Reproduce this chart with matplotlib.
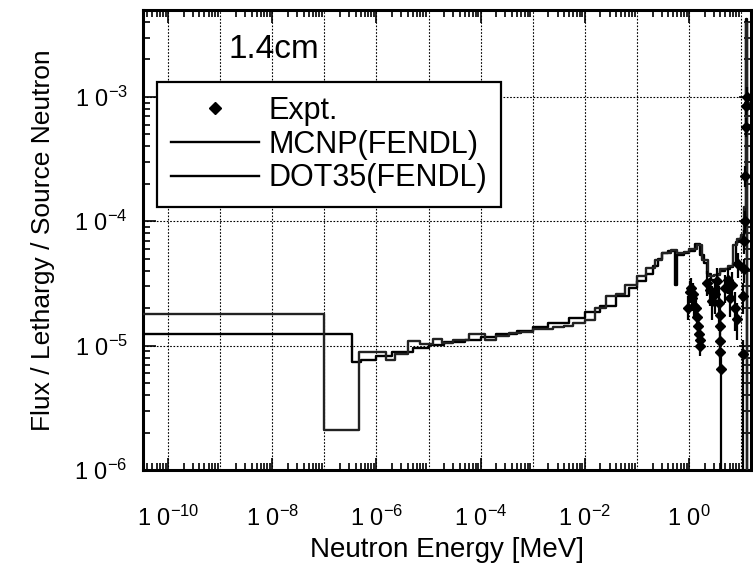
import numpy as np
import matplotlib
matplotlib.use("Agg")
import matplotlib.pyplot as plt
from matplotlib.lines import Line2D
from matplotlib.ticker import LogLocator, NullFormatter

plt.rcParams['font.family'] = ['Liberation Sans', 'DejaVu Sans']
plt.rcParams['mathtext.fontset'] = 'custom'
plt.rcParams['mathtext.rm'] = 'Liberation Sans'
plt.rcParams['mathtext.it'] = 'Liberation Sans:italic'

# MCNP(FENDL) group edges [MeV] and flux per lethargy (one value per group)
mcnp_edges = [3.3e-11, 3.4e-7, 5e-7, 1e-6, 2e-6, 5e-6, 1e-5, 2e-5, 5e-5, 1e-4,
              2e-4, 5e-4, 1e-3, 2e-3, 5e-3, 1e-2, 2e-2, 4e-2, 7e-2, 0.1,
              0.15, 0.2, 0.25, 0.3, 0.4, 0.5, 0.55, 0.6, 0.8, 1.0,
              1.3, 1.6, 1.9, 2.2, 2.6, 3.0, 3.5, 4.0, 5.0, 6.0,
              7.0, 8.0, 9.0, 10.0, 11.0, 11.6, 12.0, 12.4, 13.0, 15.0]
mcnp_flux = [1.23e-5, 7.4e-6, 7.6e-6, 8.2e-6, 8.9e-6, 9.6e-6, 1.02e-5, 1.07e-5, 1.12e-5,
             1.17e-5, 1.24e-5, 1.32e-5, 1.40e-5, 1.52e-5, 1.68e-5, 1.85e-5, 2.1e-5, 2.5e-5, 2.9e-5,
             3.3e-5, 3.8e-5, 4.4e-5, 5.0e-5, 5.6e-5, 5.8e-5, 5.8e-5, 3.1e-5, 5.4e-5, 5.6e-5,
             5.8e-5, 6.6e-5, 5.4e-5, 4.6e-5, 3.8e-5, 3.4e-5, 3.3e-5, 3.8e-5, 4.0e-5, 4.1e-5,
             4.3e-5, 4.6e-5, 6.8e-5, 7.2e-5, 7.5e-5, 7.8e-5, 8.5e-5, 1.2e-4, 4.2e-3, 5e-7]

# DOT3.5(FENDL) coarse group structure
dot_edges = [3.3e-11, 1e-7, 4.6e-7, 1.5e-6, 2.3e-6, 4e-6, 7e-6, 1.2e-5, 1.8e-5, 3e-5,
             6e-5, 1.2e-4, 2e-4, 3.5e-4, 6e-4, 1e-3, 1.6e-3, 2.5e-3, 4e-3, 6e-3,
             1e-2, 1.6e-2, 2.6e-2, 4e-2, 6e-2, 0.1, 0.15, 0.22, 0.3, 0.45,
             0.6, 0.8, 1.0, 1.4, 1.8, 2.3, 3.0, 4.0, 5.5, 7.0,
             8.5, 10.0, 11.5, 12.3, 12.9, 15.0]
dot_flux = [1.8e-5, 2.1e-6, 8.9e-6, 7.7e-6, 8.6e-6, 1.08e-5, 1.03e-5, 1.14e-5, 1.05e-5,
            1.1e-5, 1.25e-5, 1.1e-5, 1.2e-5, 1.26e-5, 1.28e-5, 1.36e-5, 1.37e-5, 1.42e-5, 1.45e-5,
            1.52e-5, 1.62e-5, 2.0e-5, 2.5e-5, 2.6e-5, 3.1e-5, 3.6e-5, 4.2e-5, 4.9e-5, 5.6e-5,
            5.9e-5, 5.6e-5, 5.7e-5, 6.0e-5, 6.4e-5, 4.9e-5, 3.6e-5, 3.7e-5, 4.1e-5, 4.4e-5,
            6.5e-5, 7.2e-5, 7.8e-5, 1.3e-4, 3.9e-3, 5e-7]

# Experiment: energy [MeV], flux, lower and upper bounds of the error bar
expt_e = [0.95, 1.05, 1.1, 1.15, 1.2, 1.25, 1.35, 1.45, 1.5, 1.55, 1.6, 1.65,
          2.2, 2.5, 2.8, 3.1, 3.4, 3.7, 4.0, 4.0, 3.9, 3.9, 4.1,
          5.0, 5.6, 6.2, 6.8, 7.5, 8.2, 8.8,
          10.9, 11.1, 11.3, 11.6, 11.9, 12.1, 12.4, 12.6, 12.8]
expt_flux = [2.0e-5, 2.7e-5, 2.9e-5, 2.4e-5, 2.6e-5, 2.1e-5, 2.0e-5, 1.7e-5, 1.45e-5, 1.25e-5, 1.1e-5, 1.0e-5,
             3.2e-5, 2.8e-5, 2.3e-5, 2.6e-5, 3.3e-5, 2.2e-5, 1.75e-5, 1.45e-5, 1.08e-5, 8.9e-6, 6.5e-6,
             2.9e-5, 3.4e-5, 2.4e-5, 3.1e-5, 2.0e-5, 1.65e-5, 4.5e-5,
             8.6e-6, 2.5e-5, 4.1e-5, 7e-5, 1.0e-4, 2.3e-4, 5.7e-4, 8.5e-4, 1.0e-3]
expt_lo = [1.6e-5, 2.2e-5, 2.4e-5, 1.9e-5, 2.1e-5, 1.7e-5, 1.6e-5, 1.4e-5, 1.2e-5, 1.0e-5, 9e-6, 8.3e-6,
           2.5e-5, 2.1e-5, 1.6e-5, 1.8e-5, 2.4e-5, 1.3e-5, 1.4e-5, 1.1e-5, 8e-6, 6.5e-6, 5e-7,
           2.2e-5, 2.6e-5, 1.7e-5, 2.3e-5, 1.3e-5, 1.1e-5, 3.5e-5,
           5e-7, 1.8e-5, 3.2e-5, 5.5e-5, 8e-5, 1.9e-4, 4.8e-4, 7.2e-4, 8.7e-4]
expt_hi = [2.5e-5, 3.3e-5, 3.5e-5, 2.9e-5, 3.2e-5, 2.6e-5, 2.4e-5, 2.1e-5, 1.75e-5, 1.5e-5, 1.3e-5, 1.2e-5,
           4.0e-5, 3.5e-5, 3.0e-5, 3.4e-5, 4.2e-5, 3.0e-5, 2.1e-5, 1.75e-5, 1.3e-5, 1.1e-5, 8.5e-6,
           3.7e-5, 4.2e-5, 3.1e-5, 3.9e-5, 2.7e-5, 2.2e-5, 5.6e-5,
           1.1e-5, 3.2e-5, 5.0e-5, 8.5e-5, 1.2e-4, 2.8e-4, 6.8e-4, 1.0e-3, 1.2e-3]

x_ticks = [1e-10, 1e-8, 1e-6, 1e-4, 1e-2, 1e0]
x_ticklabels = ['1 0$^{-10}$', '1 0$^{-8}$', '1 0$^{-6}$', '1 0$^{-4}$', '1 0$^{-2}$', '1 0$^{0}$']
y_ticks = [1e-6, 1e-5, 1e-4, 1e-3]
y_ticklabels = ['1 0$^{-6}$', '1 0$^{-5}$', '1 0$^{-4}$', '1 0$^{-3}$']

fig = plt.figure(figsize=(7.53, 5.68), dpi=100)
ax = fig.add_axes([143 / 753, 1 - 470 / 568, 608 / 753, 460 / 568])

ax.plot(mcnp_edges, mcnp_flux + [mcnp_flux[-1]], drawstyle='steps-post',
        color='black', lw=1.7, zorder=3)
ax.plot(dot_edges, dot_flux + [dot_flux[-1]], drawstyle='steps-post',
        color='#222222', lw=1.7, zorder=3)

ev = np.array(expt_flux)
yerr = [ev - np.array(expt_lo), np.array(expt_hi) - ev]
ax.errorbar(expt_e, expt_flux, yerr=yerr, fmt='D', ms=5, color='black',
            ecolor='black', elinewidth=1.6, capsize=0, zorder=4)

ax.set_xscale('log')
ax.set_yscale('log')
ax.set_xlim(3.3e-11, 15.5)
ax.set_ylim(1e-6, 5e-3)

ax.set_xticks(x_ticks, x_ticklabels)
ax.xaxis.set_minor_locator(LogLocator(base=10, subs=np.arange(2, 10), numticks=30))
ax.xaxis.set_minor_formatter(NullFormatter())
ax.set_yticks(y_ticks, y_ticklabels)
ax.yaxis.set_minor_locator(LogLocator(base=10, subs=np.arange(2, 10), numticks=30))
ax.yaxis.set_minor_formatter(NullFormatter())

# decade grid
for k in range(-10, 2):
    ax.axvline(10.0 ** k, color='black', ls=(0, (1.5, 1.5)), lw=0.8, zorder=0)
for k in range(-6, -2):
    ax.axhline(10.0 ** k, color='black', ls=(0, (1.5, 1.5)), lw=0.8, zorder=0)

ax.tick_params(which='both', direction='in', top=True, right=True, width=1.2)
ax.tick_params(which='major', length=9, labelsize=17)
ax.tick_params(axis='y', which='major', pad=11)
ax.tick_params(axis='x', which='major', pad=26)
ax.tick_params(which='minor', length=5)
for s in ax.spines.values():
    s.set_linewidth(2.2)

ax.set_xlabel('Neutron Energy [MeV]', fontsize=20, labelpad=4)
ax.set_ylabel('Flux / Lethargy / Source Neutron', fontsize=19, labelpad=14)

ax.text(0.216, 0.915, '1.4cm', transform=ax.transAxes, fontsize=24,
        ha='center', va='center')

handles = [Line2D([], [], ls='none', marker='D', ms=6, color='black'),
           Line2D([], [], color='black', lw=1.7),
           Line2D([], [], color='black', lw=1.7)]
leg = ax.legend(handles, ['Expt.', 'MCNP(FENDL)', 'DOT35(FENDL)'],
                loc='upper left', bbox_to_anchor=(0.023, 0.843),
                fontsize=22, frameon=True, fancybox=False, framealpha=1,
                edgecolor='black', handlelength=2.9, handletextpad=0.3,
                labelspacing=0.12, borderpad=0.45, borderaxespad=0)
leg.get_frame().set_linewidth(1.6)

fig.savefig('out.png', dpi=100)
